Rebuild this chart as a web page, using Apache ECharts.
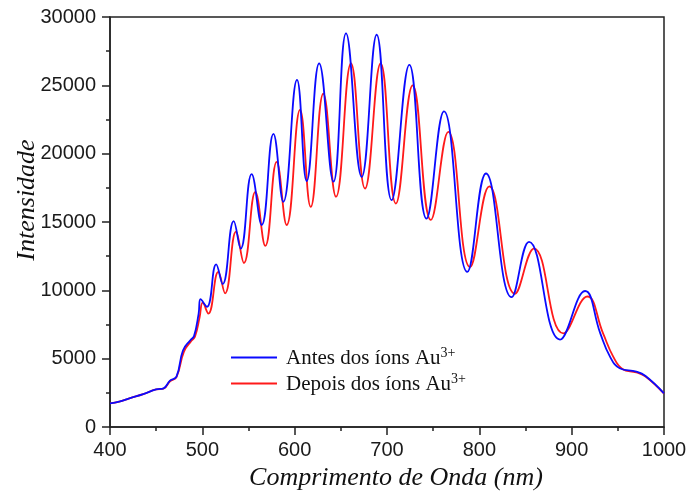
<!DOCTYPE html>
<html>
<head>
<meta charset="utf-8">
<script src="https://cdn.jsdelivr.net/npm/echarts@6/dist/echarts.min.js"></script>
<style>
html,body{margin:0;padding:0;background:#fff;}
#chart{width:687px;height:494px;}
</style>
</head>
<body>
<div id="chart"></div>
<script>
// Data
var xTicks = [400, 500, 600, 700, 800, 900, 1000];
var yTicks = [0, 5000, 10000, 15000, 20000, 25000, 30000];

var seriesNames = ['Antes dos íons Au', 'Depois dos íons Au'];

var wavelengthAntes = [400, 410, 421, 436, 450, 458, 465, 472, 479, 487, 491, 496, 498, 505, 515, 522, 534, 541.5, 553.4, 564.3, 577, 587.7, 602.5, 613, 626.5, 642, 655.6, 672.6, 688.8, 705, 724.2, 742.8, 761.7, 787, 807.2, 835, 853.8, 887.4, 914.5, 931, 941.5, 952, 970, 980, 1000];
var intensityAntes = [1730, 1850, 2100, 2400, 2750, 2830, 3390, 3680, 5600, 6350, 6650, 8300, 9350, 8800, 11900, 10460, 15070, 13050, 18500, 14780, 21450, 16480, 25400, 18000, 26600, 17950, 28800, 18300, 28700, 16600, 26500, 15250, 23100, 11350, 18550, 9500, 13550, 6400, 9950, 6850, 5150, 4300, 4050, 3730, 2460];

var wavelengthDepois = [400, 410, 421, 436, 450, 458, 465, 472, 480, 488, 492, 497, 500.4, 506.5, 517.3, 524.6, 536.5, 545, 557.4, 568.2, 580.5, 591.3, 605.8, 617.4, 631, 644.8, 661, 676.2, 693.1, 709.6, 727.8, 747.5, 766.4, 789.9, 810.8, 838.6, 859.2, 891, 917, 934, 945, 955, 970, 980, 1000];
var intensityDepois = [1730, 1850, 2100, 2400, 2750, 2800, 3350, 3650, 5500, 6300, 6600, 8000, 9100, 8300, 11350, 9780, 14300, 12000, 17200, 13250, 19400, 14780, 23200, 16100, 24400, 16850, 26600, 17450, 26600, 16350, 25000, 15150, 21600, 11700, 17600, 9750, 13050, 6850, 9550, 6850, 5150, 4250, 4000, 3700, 2450];

function pairs(xs, ys) {
  return xs.map(function (x, i) { return [x, ys[i]]; });
}

var chart = echarts.init(document.getElementById('chart'));
var axisColor = '#222';
var option = {
  backgroundColor: '#fff',
  animation: false,
  grid: {
    left: 110, right: 23, top: 17, bottom: 67,
    outerBoundsMode: 'none', containLabel: false,
    show: true, borderColor: axisColor, borderWidth: 1.5, backgroundColor: 'transparent'
  },
  legend: {
    left: 226, top: 341, orient: 'vertical', itemWidth: 46, itemHeight: 2, itemGap: 3,
    icon: 'rect',
    data: seriesNames,
    formatter: function (name) { return '{a|' + name + '}{s|3+}'; },
    textStyle: {
      color: '#111', padding: [0, 0, 0, 4],
      rich: {
        a: { fontFamily: 'Liberation Serif', fontSize: 21, color: '#111', lineHeight: 23, verticalAlign: 'bottom' },
        s: { fontFamily: 'Liberation Serif', fontSize: 14, color: '#111', lineHeight: 23, verticalAlign: 'top', padding: [0, 0, 9, 0] }
      }
    }
  },
  xAxis: {
    type: 'value', min: xTicks[0], max: xTicks[xTicks.length - 1], interval: 100,
    name: 'Comprimento de Onda (nm)', nameLocation: 'middle', nameGap: 38,
    nameTextStyle: { fontFamily: 'Liberation Serif', fontStyle: 'italic', fontSize: 26, color: '#111', padding: [0, 0, 0, 18] },
    axisLine: { show: true, lineStyle: { color: axisColor, width: 1.5 } },
    axisTick: { show: true, inside: false, length: 8, lineStyle: { color: axisColor, width: 1.5 } },
    minorTick: { show: true, splitNumber: 2, length: 4, lineStyle: { color: axisColor, width: 1.5 } },
    splitLine: { show: false },
    axisLabel: { fontFamily: 'Liberation Sans', fontSize: 20, color: '#1a1a1a', margin: 13, formatter: function (v) { return String(v); } }
  },
  yAxis: {
    type: 'value', min: yTicks[0], max: yTicks[yTicks.length - 1], interval: 5000,
    axisLine: { show: true, lineStyle: { color: axisColor, width: 1.5 } },
    axisTick: { show: true, inside: false, length: 8, lineStyle: { color: axisColor, width: 1.5 } },
    minorTick: { show: true, splitNumber: 2, length: 4, lineStyle: { color: axisColor, width: 1.5 } },
    splitLine: { show: false },
    axisLabel: { fontFamily: 'Liberation Sans', fontSize: 20, color: '#1a1a1a', margin: 14, formatter: function (v) { return String(v); } }
  },
  graphic: [{
    type: 'text', x: 27, y: 200, rotation: Math.PI / 2,
    style: { text: 'Intensidade', fontFamily: 'Liberation Serif', fontStyle: 'italic', fontSize: 26, fill: '#111', align: 'center', verticalAlign: 'middle' }
  }],
  series: [
    {
      name: seriesNames[0], type: 'line', symbol: 'none', smooth: 0.45, z: 3,
      lineStyle: { color: '#0a0aff', width: 1.8 }, itemStyle: { color: '#0a0aff' },
      data: pairs(wavelengthAntes, intensityAntes)
    },
    {
      name: seriesNames[1], type: 'line', symbol: 'none', smooth: 0.45, z: 2,
      lineStyle: { color: '#ff1a1a', width: 1.8 }, itemStyle: { color: '#ff1a1a' },
      data: pairs(wavelengthDepois, intensityDepois)
    }
  ]
};
chart.setOption(option);
</script>
</body>
</html>
